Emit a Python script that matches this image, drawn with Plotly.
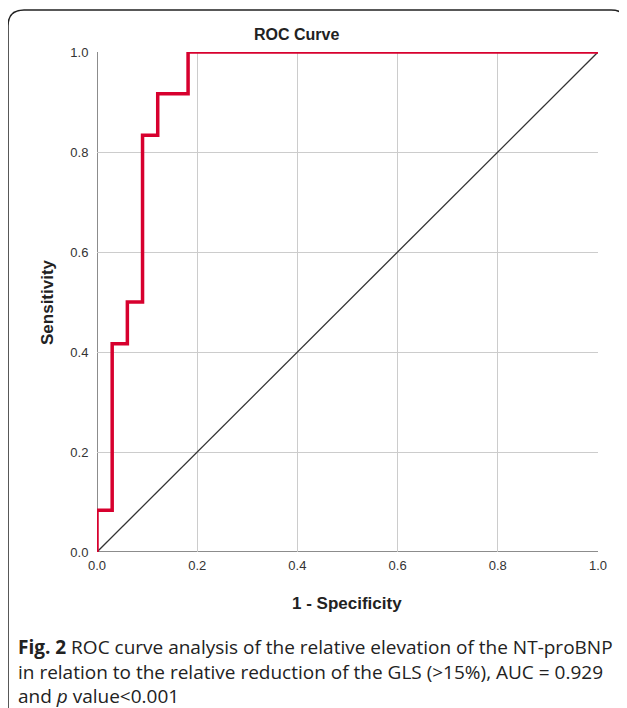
import plotly.graph_objects as go

# ROC step curve (1 - specificity, sensitivity)
fpr = [0.0, 0.0, 0.0303, 0.0303, 0.0606, 0.0606, 0.0909, 0.0909, 0.1212, 0.1212, 0.1818, 0.1818, 1.0]
tpr = [0.0, 0.0833, 0.0833, 0.4167, 0.4167, 0.5, 0.5, 0.8333, 0.8333, 0.9167, 0.9167, 1.0, 1.0]
ref_x = [0.0, 1.0]
ref_y = [0.0, 1.0]
tick_vals = [0.0, 0.2, 0.4, 0.6, 0.8, 1.0]
tick_text = ["0.0", "0.2", "0.4", "0.6", "0.8", "1.0"]

OFF = 8  # page body margin
W, H = 627 - OFF, 708 - OFF
L, T = 97 - OFF, 52 - OFF
R = W - (598 - OFF)
B = H - (552 - OFF)
PW, PH = W - L - R, H - T - B

fig = go.Figure()
fig.add_trace(go.Scatter(x=ref_x, y=ref_y, mode="lines",
                         line=dict(color="#333333", width=1.3), hoverinfo="skip"))
fig.add_trace(go.Scatter(x=fpr, y=tpr, mode="lines",
                         line=dict(color="#d7002e", width=3.5)))

fig.update_layout(
    width=W, height=H,
    margin=dict(l=L, r=R, t=T, b=B),
    paper_bgcolor="white", plot_bgcolor="white",
    showlegend=False,
    font=dict(family="Arial, Liberation Sans", color="#333333", size=12),
    xaxis=dict(range=[0, 1], tickvals=tick_vals, ticktext=tick_text,
               showgrid=True, gridcolor="#cccccc", gridwidth=1.2,
               showline=False, zeroline=False, ticks="outside", ticklen=1,
               tickcolor="rgba(0,0,0,0)",
               tickfont=dict(size=13, color="#333333")),
    yaxis=dict(range=[0, 1], tickvals=tick_vals, ticktext=tick_text,
               showgrid=True, gridcolor="#cccccc", gridwidth=1.2,
               showline=False, zeroline=False, ticks="outside", ticklen=5,
               tickcolor="rgba(0,0,0,0)",
               tickfont=dict(size=13, color="#333333")),
)

# axis lines (left and bottom)
fig.add_shape(type="line", xref="x", yref="y", x0=0, x1=0, y0=0, y1=1,
              line=dict(color="#666666", width=1.5), layer="below")
fig.add_shape(type="line", xref="x", yref="y", x0=0, x1=1, y0=0, y1=0,
              line=dict(color="#666666", width=1.5), layer="below")

# helpers: page pixels -> paper (plot-area) coords
def px(x):
    return (x - OFF - L) / PW
def py(y):
    return (H - B - (y - OFF)) / PH

# outer rounded frame
x0, x1, ytop, r = 8, 627, 10, 16
path = (f"M {px(x0)} {py(720)} L {px(x0)} {py(ytop + r)} "
        f"Q {px(x0)} {py(ytop)} {px(x0 + r)} {py(ytop)} "
        f"L {px(x1 - r)} {py(ytop)} Q {px(x1)} {py(ytop)} {px(x1)} {py(ytop + r)} "
        f"L {px(x1)} {py(720)}")
fig.add_shape(type="path", xref="paper", yref="paper", path=path,
              line=dict(color="#222222", width=1.5))

# Title
fig.add_annotation(text="<b>ROC Curve</b>", xref="paper", yref="paper",
                   x=px(296), y=py(35), showarrow=False, xanchor="center", yanchor="middle",
                   font=dict(size=16, color="#222222", family="Arial, Liberation Sans"))
# Axis titles
fig.add_annotation(text="<b>1 - Specificity</b>", xref="paper", yref="paper",
                   x=px(347), y=py(603), showarrow=False, xanchor="center", yanchor="middle",
                   font=dict(size=17, color="#222222", family="Arial, Liberation Sans"))
fig.add_annotation(text="<b>Sensitivity</b>", xref="paper", yref="paper",
                   x=px(47), y=py(302), showarrow=False, xanchor="center", yanchor="middle",
                   textangle=-90,
                   font=dict(size=17, color="#222222", family="Arial, Liberation Sans"))

# Caption
caption = ("<b>Fig. 2</b> ROC curve analysis of the relative elevation of the NT-proBNP<br>"
           "in relation to the relative reduction of the GLS (&gt;15%), AUC = 0.929<br>"
           "and <i>p</i> value&lt;0.001")
fig.add_annotation(text=caption, xref="paper", yref="paper",
                   x=px(16), y=py(632), showarrow=False, xanchor="left", yanchor="top",
                   align="left",
                   font=dict(size=19, color="#222222", family="Open Sans, Noto Sans"))

fig.write_html("out.html")
